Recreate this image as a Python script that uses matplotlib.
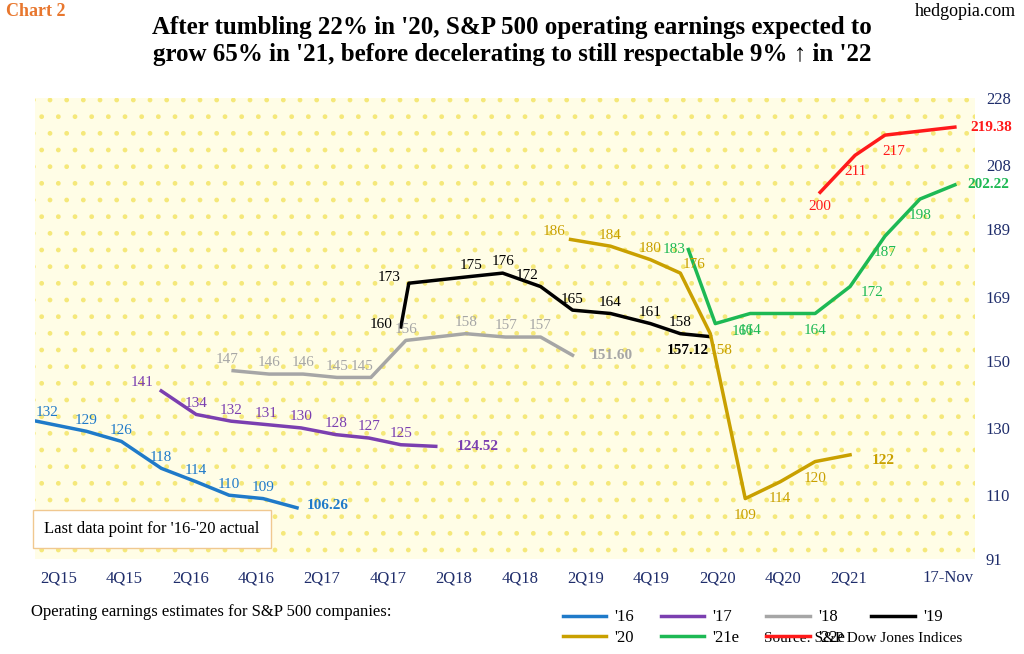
import numpy as np
import matplotlib.pyplot as plt
from matplotlib.patches import Rectangle
from matplotlib.lines import Line2D


def qx(px):
    'pixel column read off the picture -> quarter index (2Q15 = 0)'
    return (np.asarray(px, dtype=float) - 57.0) / 33.0


if __name__ == '__main__':
    plt.rcParams['font.family'] = ['Liberation Serif', 'DejaVu Serif']

    # (pixel x, value, label offset in points)
    series = {
        "'16": ('#1f7ac9', [(35, 132, (8, 6)), (85, 129, (0, 8)), (120, 126, (0, 8)),
                             (160, 118, (0, 8)), (195, 114, (0, 8)), (228, 110, (0, 8)),
                             (262, 109, (0, 8)), (296, 106.26, (22, 2))]),
        "'17": ('#7b3fb0', [(160, 141, (-14, 6)), (195, 134, (0, 8)), (230, 132, (0, 8)),
                             (265, 131, (0, 8)), (300, 130, (0, 8)), (335, 128, (0, 8)),
                             (368, 127, (0, 8)), (400, 125, (0, 8)), (435, 124.52, (30, 0))]),
        "'18": ('#a6a6a6', [(232, 147, (-4, 8)), (268, 146, (0, 8)), (302, 146, (0, 8)),
                             (336, 145, (0, 8)), (370, 145, (-6, 8)), (405, 156, (0, 8)),
                             (465, 158, (0, 8)), (505, 157, (0, 8)), (540, 157, (0, 8)),
                             (572, 151.6, (28, 0))]),
        "'19": ('#000000', [(400, 160, (-14, 2)), (408, 173, (-14, 4)), (470, 175, (0, 8)),
                             (502, 176, (0, 8)), (540, 172, (-10, 8)), (572, 165, (0, 8)),
                             (610, 164, (0, 8)), (650, 161, (0, 8)), (680, 158, (0, 8)),
                             (710, 157.12, (-16, -10))]),
        "'20": ('#c9a000', [(570, 186, (-12, 6)), (610, 184, (0, 8)), (650, 180, (0, 8)),
                             (680, 176, (10, 6)), (710, 158, (8, -12)), (745, 109, (0, -12)),
                             (780, 114, (0, -12)), (815, 120, (0, -12)), (850, 122, (24, -4))]),
        "'21e": ('#1db954', [(688, 183, (-10, 0)), (715, 161, (20, -6)), (750, 164, (0, -12)),
                              (815, 164, (0, -12)), (850, 172, (16, -4)), (885, 187, (0, -12)),
                              (920, 198, (0, -12)), (955, 202.22, (24, 0))]),
        "'22e": ('#ff1a1a', [(820, 200, (0, -10)), (855, 211, (0, -12)), (885, 217, (6, -12)),
                              (955, 219.38, (26, 0))]),
    }
    last_bold = True  # last point of every series printed in bold

    fig, ax = plt.subplots(figsize=(10.24, 6.54), dpi=100)
    fig.subplots_adjust(left=0.034, right=0.952, top=0.85, bottom=0.145)
    fig.patch.set_facecolor('white')

    ax.set_facecolor('#fffde6')
    ax.add_patch(Rectangle((0, 0), 1, 1, transform=ax.transAxes, facecolor='none',
                           edgecolor='#f5e87a', hatch='.', lw=0, zorder=0))

    for name, (col, pts) in series.items():
        xs = qx([p[0] for p in pts])
        ys = [p[1] for p in pts]
        ax.plot(xs, ys, color=col, lw=2.5, zorder=3)
        for i, (x, y, off) in enumerate(pts):
            bold = last_bold and i == len(pts) - 1
            txt = ('%.2f' % y) if bold and y != int(y) else '%d' % y
            ax.annotate(txt, (qx(x), y), xytext=off, textcoords='offset points',
                        ha='center', va='center', color=col, fontsize=11,
                        fontweight='bold' if bold else 'normal', zorder=4)

    ax.set_xlim(qx(35) - 0.05, qx(975))
    ax.set_ylim(91, 228)
    ax.yaxis.tick_right()
    ax.set_yticks([91, 110, 130, 150, 169, 189, 208, 228])
    ticks = list(range(0, 25, 2)) + [qx(948)]
    ax.set_xticks(ticks)
    ax.set_xticklabels(['2Q15', '4Q15', '2Q16', '4Q16', '2Q17', '4Q17', '2Q18', '4Q18',
                        '2Q19', '4Q19', '2Q20', '4Q20', '2Q21', '17-Nov'])
    ax.tick_params(length=0, labelsize=12, colors='#1f2d6b', pad=8)
    for s in ax.spines.values():
        s.set_visible(False)

    ax.text(0.01, 0.065, "Last data point for '16-'20 actual", transform=ax.transAxes,
            fontsize=12, va='center',
            bbox=dict(facecolor='white', edgecolor='#f0c890', pad=8))

    fig.suptitle("After tumbling 22% in '20, S&P 500 operating earnings expected to\n"
                 "grow 65% in '21, before decelerating to still respectable 9% \u2191 in '22",
                 y=0.975, fontsize=18, fontweight='bold')
    fig.text(0.006, 0.975, 'Chart 2', color='#e8772e', fontsize=13, fontweight='bold')
    fig.text(0.992, 0.975, 'hedgopia.com', ha='right', fontsize=13)

    fig.text(0.03, 0.058, 'Operating earnings estimates for S&P 500 companies:', fontsize=12)
    order = ["'16", "'20", "'17", "'21e", "'18", "'22e", "'19"]
    handles = [Line2D([], [], color=series[k][0], lw=2.5) for k in order]
    fig.legend(handles, order, ncol=4, loc='lower left', bbox_to_anchor=(0.535, -0.01),
               frameon=False, fontsize=12, handlelength=2.6, columnspacing=1.6,
               labelspacing=0.25, handletextpad=0.5)
    fig.text(0.94, 0.018, 'Source: S&P Dow Jones Indices', ha='right', fontsize=11)

    fig.savefig('out.png', dpi=100, facecolor='white')
